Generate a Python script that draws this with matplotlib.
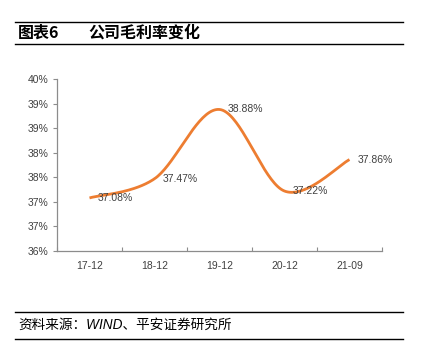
import numpy as np
import matplotlib
matplotlib.use('Agg')
import matplotlib.pyplot as plt
from matplotlib.lines import Line2D
from matplotlib.ticker import FixedLocator, FuncFormatter, NullFormatter

plt.rcParams['font.family'] = ['Liberation Sans Narrow', 'Liberation Sans', 'Noto Sans CJK SC', 'DejaVu Sans']

# 数据
categories = ['17-12', '18-12', '19-12', '20-12', '21-09']
gross_margin = [37.08, 37.47, 38.88, 37.22, 37.86]
value_labels = ['37.08%', '37.47%', '38.88%', '37.22%', '37.86%']
title_no = '图表6'
title_txt = '公司毛利率变化'
source_txt = '资料来源：WIND、平安证券研究所'

LINE_C = '#ED7D31'
AX_C = '#8c8c8c'
TXT_C = '#404040'


def smooth(xs, ys, n=40):
    # Excel 风格平滑线（Catmull-Rom / Bezier）
    xs = np.asarray(xs, float); ys = np.asarray(ys, float)
    px = np.concatenate([[xs[0]], xs, [xs[-1]]])
    py = np.concatenate([[ys[0]], ys, [ys[-1]]])
    ox, oy = [], []
    t = np.linspace(0, 1, n)
    for i in range(1, len(px) - 2):
        p0 = np.array([px[i], py[i]])
        p3 = np.array([px[i + 1], py[i + 1]])
        c1 = p0 + (np.array([px[i + 1], py[i + 1]]) - np.array([px[i - 1], py[i - 1]])) / 6
        c2 = p3 - (np.array([px[i + 2], py[i + 2]]) - np.array([px[i], py[i]])) / 6
        b = ((1 - t) ** 3)[:, None] * p0 + (3 * (1 - t) ** 2 * t)[:, None] * c1 \
            + (3 * (1 - t) * t ** 2)[:, None] * c2 + (t ** 3)[:, None] * p3
        ox.extend(b[:, 0]); oy.extend(b[:, 1])
    return np.array(ox), np.array(oy)


fig = plt.figure(figsize=(4.22, 3.52), dpi=100)

# 标题栏
fig.add_artist(Line2D([15 / 422, 403 / 422], [1 - 22 / 352] * 2, color='black', lw=1.0))
fig.add_artist(Line2D([15 / 422, 403 / 422], [1 - 44 / 352] * 2, color='black', lw=1.0))
fig.text(18 / 422, 1 - 33 / 352, title_no, fontsize=11.5, fontweight='bold', va='center',
         family=['Noto Sans CJK SC'])
fig.text(88 / 422, 1 - 33 / 352, title_txt, fontsize=11.5, fontweight='bold', va='center',
         family=['Noto Sans CJK SC'])

# 来源栏
fig.add_artist(Line2D([15 / 422, 403 / 422], [1 - 312 / 352] * 2, color='black', lw=1.0))
fig.add_artist(Line2D([15 / 422, 403 / 422], [1 - 339 / 352] * 2, color='black', lw=1.0))
fig.text(18 / 422, 1 - 325 / 352, source_txt, fontsize=9.8, style='italic', va='center',
         family=['Liberation Sans', 'Noto Sans CJK SC'])

# 图表区
ax = fig.add_axes([57 / 422, 1 - 251 / 352, (382 - 57) / 422, (251 - 79) / 352])
x = np.arange(len(categories))
sx, sy = smooth(x, gross_margin)
ax.plot(sx, sy, color=LINE_C, lw=2.0, solid_capstyle='butt', zorder=3)
for xi, yi, lab in zip(x, gross_margin, value_labels):
    ax.text(xi + 0.12, yi, lab, fontsize=7.5, color=TXT_C, va='center', ha='left', zorder=4)

ax.set_xlim(-0.5, len(categories) - 0.5)
ax.set_ylim(36, 39.5)
ax.yaxis.set_major_locator(FixedLocator(np.arange(36, 39.51, 0.5)))
ax.yaxis.set_major_formatter(FuncFormatter(lambda v, p: f'{int(np.floor(v + 0.5))}%'))
ax.xaxis.set_major_locator(FixedLocator(np.arange(-0.5, len(categories), 1.0)))
ax.xaxis.set_major_formatter(NullFormatter())
ax.xaxis.set_minor_locator(FixedLocator(x))
ax.set_xticklabels(categories, minor=True)
ax.tick_params(axis='x', which='minor', length=0, pad=7, labelsize=7.5, labelcolor=TXT_C)
ax.tick_params(axis='x', which='major', length=3, direction='in', color=AX_C)
ax.tick_params(axis='y', length=3, direction='out', color=AX_C, labelsize=7.5, labelcolor=TXT_C, pad=3)
for s in ['top', 'right']:
    ax.spines[s].set_visible(False)
for s in ['left', 'bottom']:
    ax.spines[s].set_color(AX_C)
    ax.spines[s].set_linewidth(0.9)
ax.set_facecolor('none')

fig.savefig('out.png', dpi=100)
